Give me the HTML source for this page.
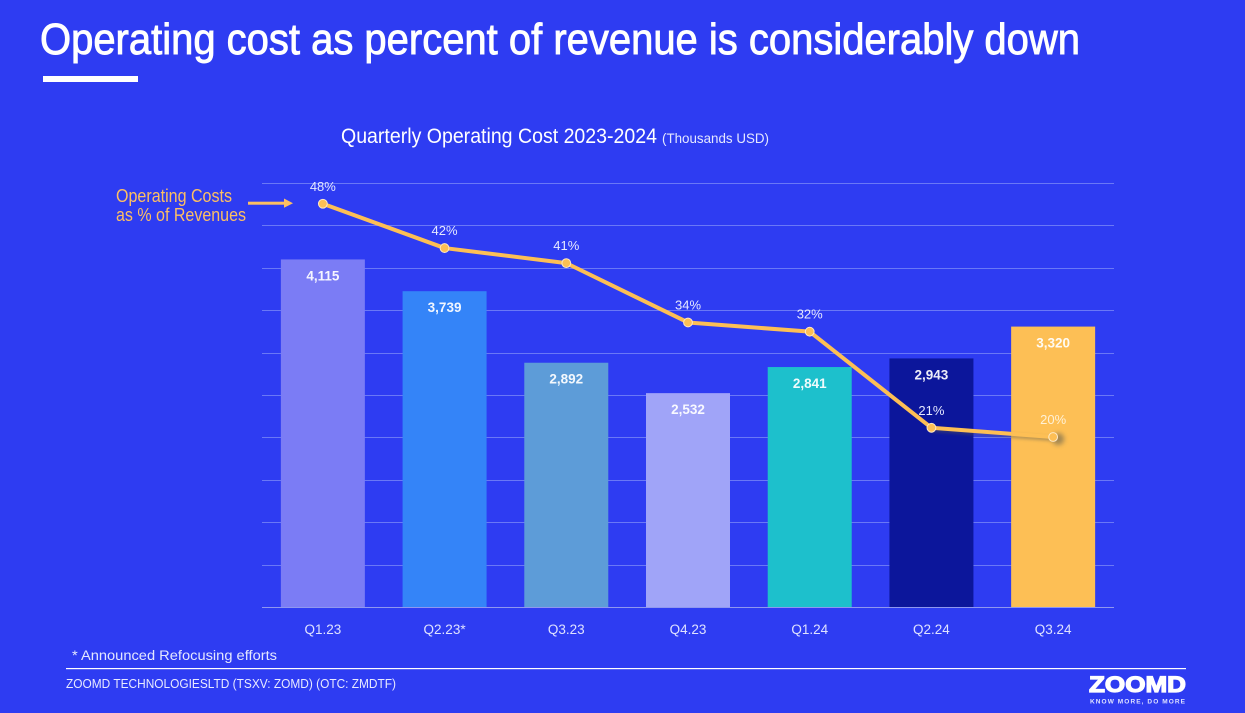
<!DOCTYPE html>
<html lang="en">
<head>
<meta charset="utf-8">
<title>Operating cost as percent of revenue is considerably down</title>
<style>
html,body{margin:0;padding:0;width:1245px;height:713px;overflow:hidden;background:#2e3cf2;}
svg{display:block;}
text{font-family:"Liberation Sans",sans-serif;}
.narrow{font-family:"Liberation Sans Narrow","Liberation Sans",sans-serif;}
</style>
</head>
<body>
<svg id="chart" width="1245" height="713" viewBox="0 0 1245 713" xmlns="http://www.w3.org/2000/svg">
  <defs>
    <filter id="pt-shadow" x="-100%" y="-100%" width="300%" height="300%">
      <feGaussianBlur stdDeviation="2.5"/>
    </filter>
    <filter id="line-shadow" x="-10%" y="-300%" width="120%" height="700%">
      <feGaussianBlur stdDeviation="1.5"/>
    </filter>
  </defs>
  <rect width="1245" height="713" fill="#2e3cf2"/>
  <text class="narrow" x="40" y="54" font-size="44" fill="#ffffff" stroke="#ffffff" stroke-width="0.9" textLength="1040" lengthAdjust="spacingAndGlyphs">Operating cost as percent of revenue is considerably down</text>
  <rect x="43" y="76" width="95" height="6" fill="#ffffff"/>
  <text class="narrow" x="341" y="143" font-size="21" fill="#ffffff" textLength="316" lengthAdjust="spacingAndGlyphs">Quarterly Operating Cost 2023-2024</text>
  <text class="narrow" x="662" y="143" font-size="14" fill="#e4e7ff" textLength="107" lengthAdjust="spacingAndGlyphs">(Thousands USD)</text>
  <g id="grid"></g>
  <g id="bars"></g>
  <g id="categories"></g>
  <g id="line"></g>
  <text class="narrow" x="116" y="202" font-size="18" fill="#fdbf63" textLength="116" lengthAdjust="spacingAndGlyphs">Operating Costs</text>
  <text class="narrow" x="116" y="221" font-size="18" fill="#fdbf63" textLength="130" lengthAdjust="spacingAndGlyphs">as % of Revenues</text>
  <g>
    <rect x="248" y="201.700" width="36" height="3" fill="#fdbf63"/>
    <polygon points="284,198.500 293,203.200 284,207.800" fill="#fdbf63"/>
  </g>
  <text x="72" y="660" font-size="13.5" fill="#e4e7ff" textLength="205" lengthAdjust="spacingAndGlyphs">* Announced Refocusing efforts</text>
  <rect x="66" y="668" width="1120" height="1.2" fill="#ffffff"/>
  <text class="narrow" x="66" y="688" font-size="13" fill="#e8eaff" textLength="330" lengthAdjust="spacingAndGlyphs">ZOOMD TECHNOLOGIESLTD (TSXV: ZOMD) (OTC: ZMDTF)</text>
  <g>
    <text x="1089" y="692" font-size="22" font-weight="700" fill="#ffffff" stroke="#ffffff" stroke-width="1.2" textLength="97" lengthAdjust="spacingAndGlyphs">ZOOMD</text>
    <text x="1090" y="703.500" font-size="6.500" font-weight="700" fill="#dfe2ff" textLength="95" lengthAdjust="spacing">KNOW MORE, DO MORE</text>
  </g>
</svg>
<script>
const categories = ['Q1.23', 'Q2.23*', 'Q3.23', 'Q4.23', 'Q1.24', 'Q2.24', 'Q3.24'];
const costValues = [4115, 3739, 2892, 2532, 2841, 2943, 3320];
const costLabels = ['4,115', '3,739', '2,892', '2,532', '2,841', '2,943', '3,320'];
const barColors = ['#7b7cf5', '#3484f8', '#5d9cd8', '#a0a4f8', '#1dc0cc', '#0c169b', '#fdbf55'];
const percentValues = [47.9, 42.6, 40.8, 33.7, 32.6, 21.1, 20];
const percentLabels = ['48%', '42%', '41%', '34%', '32%', '21%', '20%'];
const gridTicks = [0, 500, 1000, 1500, 2000, 2500, 3000, 3500, 4000, 4500, 5000];

const NS = 'http://www.w3.org/2000/svg';
const plot = { left: 262, right: 1114, top: 183, bottom: 607, barWidth: 84 };
const gridMax = 5000;
const costMax = 5020;
function xBand(i) {
  return plot.left + (plot.right - plot.left) * (i + 0.5) / categories.length;
}
function yGrid(v) {
  return plot.bottom - (plot.bottom - plot.top) * v / gridMax;
}
function yCost(v) {
  return plot.bottom - (plot.bottom - plot.top) * v / costMax;
}
function yPercent(v) {
  return 437 - (v - 20) * 8.36;
}
function make(tag, parent, attrs, text) {
  const el = document.createElementNS(NS, tag);
  for (const k in attrs) el.setAttribute(k, attrs[k]);
  if (text !== undefined) el.textContent = text;
  parent.appendChild(el);
  return el;
}

const gridG = document.getElementById('grid');
gridTicks.forEach(function (t) {
  const y = Math.round(yGrid(t)) + 0.5;
  const ln = make('line', gridG, { x1: plot.left, x2: plot.right, y1: y, y2: y, stroke: t === 0 ? '#8f97f0' : '#6a78f6', 'stroke-width': 1 });
  
  
});

const barsG = document.getElementById('bars');
costValues.forEach(function (v, i) {
  const top = yCost(v);
  const r = make('rect', barsG, { x: xBand(i) - plot.barWidth / 2, y: top, width: plot.barWidth, height: plot.bottom - top, fill: barColors[i] });
  
  
  const t = make('text', barsG, { x: xBand(i), y: top + 21, 'text-anchor': 'middle', 'font-size': 13.5, 'font-weight': 700, fill: '#ffffff', 'fill-opacity': 0.93 }, costLabels[i]);
  
  
});

const catG = document.getElementById('categories');
categories.forEach(function (c, i) {
  const t = make('text', catG, { x: xBand(i), y: 634, 'text-anchor': 'middle', 'font-size': 13.5, fill: '#dfe2ff' }, c);
  
  
});

const lineG = document.getElementById('line');
const pts = percentValues.map(function (v, i) {
  return xBand(i) + ',' + yPercent(v);
}).join(' ');
const lastIdx = percentValues.length - 1;
const shadow = make('circle', lineG, { cx: xBand(lastIdx) + 5, cy: yPercent(percentValues[lastIdx]) + 2, r: 6, fill: '#5a5a50', opacity: 0.55, filter: 'url(#pt-shadow)' });


const lastSegShadow = make('line', lineG, { x1: xBand(lastIdx - 1), y1: yPercent(percentValues[lastIdx - 1]) + 2, x2: xBand(lastIdx), y2: yPercent(percentValues[lastIdx]) + 2, stroke: '#5a5a50', 'stroke-width': 4, opacity: 0.45, filter: 'url(#line-shadow)' });


const poly = make('polyline', lineG, { points: pts, fill: 'none', stroke: '#fdbf55', 'stroke-width': 4, 'stroke-linejoin': 'round' });


percentValues.forEach(function (v, i) {
  const y = yPercent(v);
  const c = make('circle', lineG, { cx: xBand(i), cy: y, r: 4.4, fill: '#fdbf55', stroke: '#ffe9c4', 'stroke-width': 1 });
  
  
  const t = make('text', lineG, { x: xBand(i), y: y - 13, 'text-anchor': 'middle', 'font-size': 13, fill: i === lastIdx ? '#fff1d6' : '#e6e9ff' }, percentLabels[i]);
  
  
});
</script>
</body>
</html>
